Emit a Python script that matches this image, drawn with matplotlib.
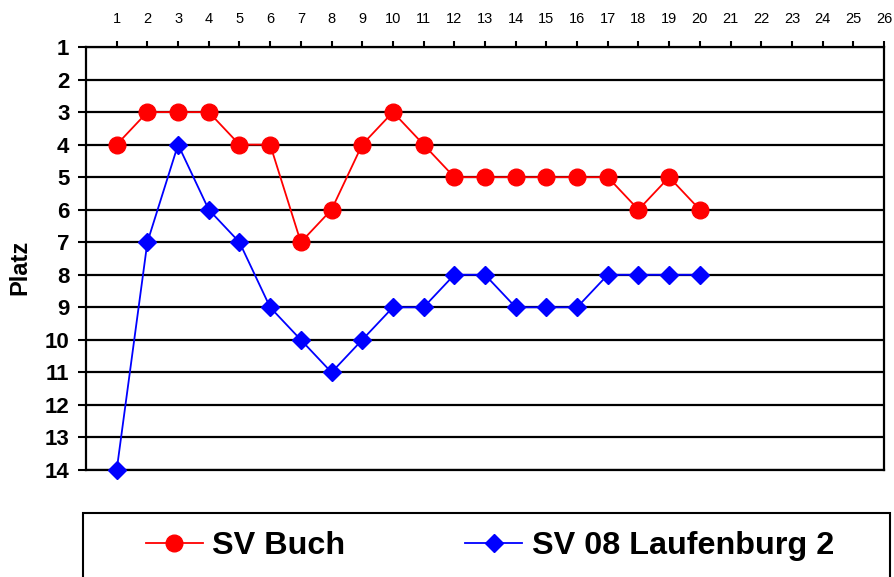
import numpy as np
from matplotlib import pyplot as plt
from matplotlib.patches import Rectangle

plt.rcParams['font.family'] = ['Liberation Sans', 'DejaVu Sans']

spieltag = list(range(1, 21))
sv_buch = [4, 3, 3, 3, 4, 4, 7, 6, 4, 3, 4, 5, 5, 5, 5, 5, 5, 6, 5, 6]
laufenburg = [14, 7, 4, 6, 7, 9, 10, 11, 10, 9, 9, 8, 8, 9, 9, 9, 8, 8, 8, 8]
x_ticks = list(range(1, 27))
y_ticks = list(range(1, 15))

fig = plt.figure(figsize=(8.94, 5.77), dpi=100)
ax = fig.add_axes([86/894, 107/577, 798/894, 423/577])

ax.plot(spieltag, sv_buch, "-", color="#ff0000", lw=1.3, marker="o",
        markersize=12, label="SV Buch", clip_on=False, zorder=3)
ax.plot(spieltag, laufenburg, "-", color="#0000ff", lw=1.3, marker="D",
        markersize=9, label="SV 08 Laufenburg 2", clip_on=False, zorder=3)

ax.set_xlim(0, 26)
ax.set_ylim(14, 1)
ax.xaxis.tick_top()
ax.set_xticks(x_ticks)
ax.set_yticks(y_ticks)
ax.tick_params(axis="x", direction="out", length=4, width=1.5, labelsize=10.5, pad=11)
ax.tick_params(axis="y", direction="out", length=6, width=1.5, labelsize=16, pad=6)
for lab in ax.get_yticklabels():
    lab.set_fontweight("bold")
ax.yaxis.grid(True, color="black", lw=1.6)
for s in ax.spines.values():
    s.set_linewidth(1.6)
ax.set_ylabel("Platz", fontsize=17, fontweight="bold")
ax.yaxis.set_label_coords(-0.068, 0.48)

# legend box (runs off the bottom edge like the original)
fig.patches.append(Rectangle((83/894, -0.02), 807/894, 64/577 + 0.02,
                             transform=fig.transFigure, fill=False,
                             edgecolor="black", lw=1.5))
fig.legend(loc="center", ncol=2, bbox_to_anchor=(490/894, 31/577),
           prop={"weight": "bold", "size": 23.3}, frameon=False,
           handlelength=1.76, handletextpad=0.3, columnspacing=3.7)

fig.savefig("out.png", dpi=100)
